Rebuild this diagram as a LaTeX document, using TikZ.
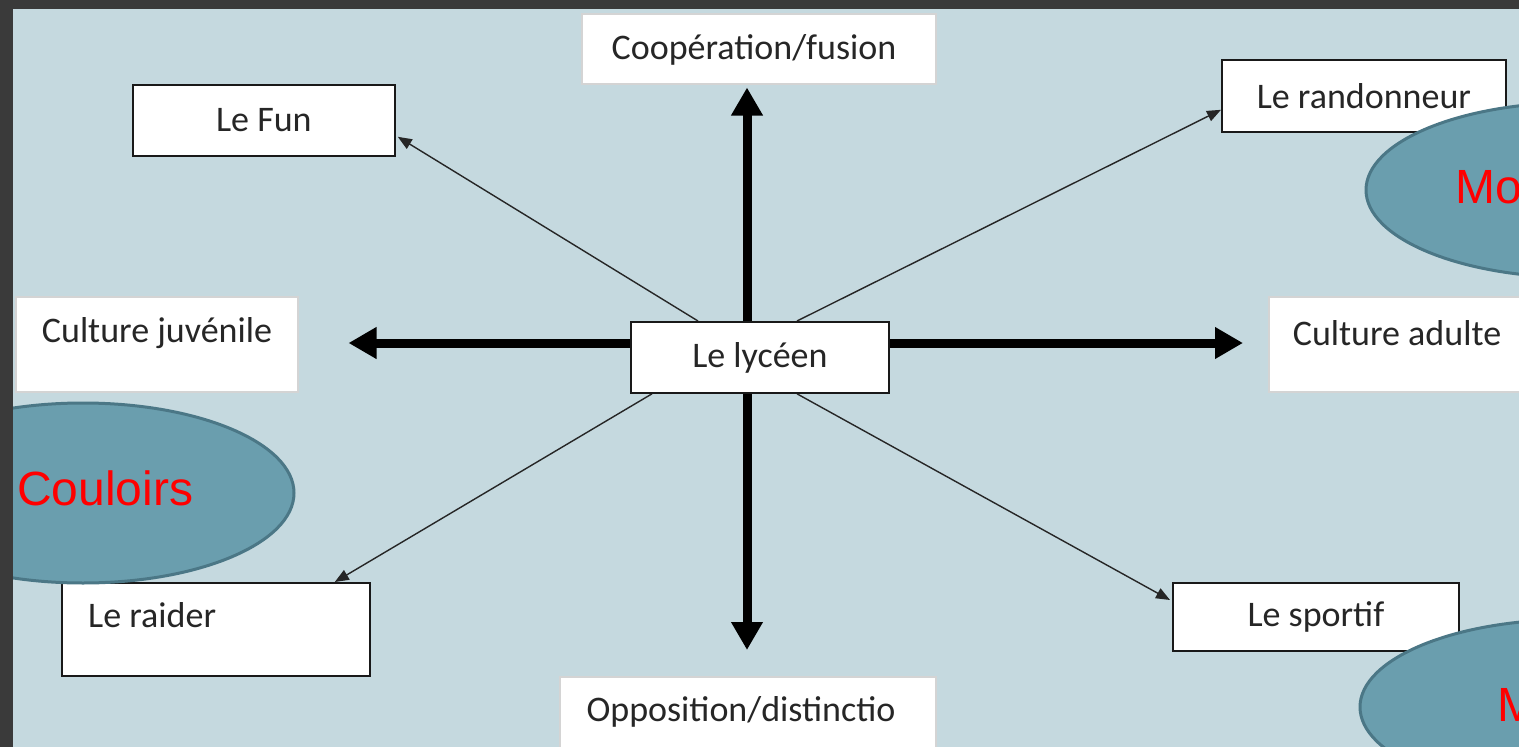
\documentclass[tikz,border=0pt]{standalone}
\usepackage{fontspec}
\setmainfont{Carlito}
\newfontfamily\arialfont{Liberation Sans}
\usetikzlibrary{arrows.meta,calc,shapes.geometric}
\definecolor{framegray}{HTML}{3A3A3A}
\definecolor{canvasbg}{HTML}{C5D9DF}
\definecolor{blobfill}{HTML}{6A9EAE}
\definecolor{blobdraw}{HTML}{4B7786}
\definecolor{softgray}{HTML}{D4D4D4}
\pgfdeclarelayer{bg}
\pgfdeclarelayer{links}
\pgfsetlayers{bg,links,main}
\begin{document}
\begin{tikzpicture}[x=1pt,y=-1pt,
  darkbox/.style={draw=black!90,line width=1.8pt,fill=white,inner sep=0pt,anchor=north west,
    font=\fontsize{36}{43}\selectfont,text=black!85},
  softbox/.style={draw=softgray,line width=1.5pt,fill=white,inner sep=0pt,anchor=north west},
  boxtext/.style={font=\fontsize{36}{43}\selectfont,text=black!85,inner sep=0pt},
  blob/.style={ellipse,fill=blobfill,draw=blobdraw,line width=3pt,inner sep=0pt},
  blobtext/.style={font=\arialfont\fontsize{48}{58}\selectfont,text=red,inner sep=0pt,anchor=base west},
  axisarrow/.style={line width=9pt,-{Triangle[length=28pt,width=30pt]}},
  spoke/.style={line width=1.4pt,black!85,-{Triangle[length=14pt,width=11pt]}}]

% frame and canvas
\begin{pgfonlayer}{bg}
  \fill[framegray] (0,0) rectangle (1519,747);
  \fill[canvasbg] (13,9) rectangle (1519,747);
\end{pgfonlayer}
\useasboundingbox (0,0) rectangle (1519,747);

\begin{scope}
  \clip (13,9) rectangle (1519,747);
  % boxes
  \node[softbox,minimum width=354,minimum height=70] (coop) at (581,13) {};
  \node[boxtext] (cooptxt) at (754,50) {Coopération/fusion};
  \node[darkbox,minimum width=262,minimum height=71] (fun) at (132,84) {Le Fun};
  \node[darkbox,minimum width=284,minimum height=72] (rand) at (1221,59) {Le randonneur};
  \node[softbox,minimum width=282,minimum height=95] (juv) at (15,296) {};
  \node[boxtext] (juvtxt) at (157,333) {Culture juvénile};
  \node[softbox,minimum width=280,minimum height=95] (adult) at (1268,296) {};
  \node[boxtext] (adulttxt) at (1397,333) {Culture adulte};
  \node[darkbox,minimum width=258,minimum height=71] (lyc) at (630,321) {Le lycéen};
  \node[darkbox,minimum width=308,minimum height=93] (raider) at (61,582) {};
  \node[boxtext,anchor=base west] (raidertxt) at (88,627) {Le raider};
  \node[darkbox,minimum width=286,minimum height=68] (sportif) at (1172,582) {Le sportif};
  \node[softbox,minimum width=376,minimum height=90] (opp) at (559,676) {};
  \node[boxtext] (opptxt) at (741,712) {Opposition/distinctio};

  % ellipses on top
  \node[blob,minimum width=422,minimum height=180] (couloirs) at (83,493) {};
  \node[blobtext] (couloirstxt) at (17,505) {Couloirs};
  \node[blob,minimum width=422,minimum height=175] (blobne) at (1577,190) {};
  \node[blobtext] (blobnetxt) at (1455,203) {Mo};
  \node[blob,minimum width=422,minimum height=175] (blobse) at (1571,707) {};
  \node[blobtext] (blobsetxt) at (1497,721) {M};
\end{scope}

% connectors behind the boxes
\begin{pgfonlayer}{links}
  \coordinate (hub) at (747,343);
  \draw[axisarrow,shorten >=3pt] (hub) -- (hub |- coop.south);
  \draw[axisarrow,shorten >=26pt] (hub) -- (hub |- opp.north);
  \draw[axisarrow,shorten >=50pt] (hub) -- (hub -| juv.east);
  \draw[axisarrow,shorten >=25pt] (hub) -- (hub -| adult.west);

  \draw[spoke] ($(lyc.north west)+(68,0)$) -- ($(fun.south east)+(2,-20)$);
  \draw[spoke] ($(lyc.north west)+(167,0)$) -- ($(rand.south west)+(0,-23)$);
  \draw[spoke] ($(lyc.south west)+(22,0)$) -- ($(raider.north east)+(-36,0)$);
  \draw[spoke] ($(lyc.south west)+(167,0)$) -- ($(sportif.north west)+(-2,18)$);
\end{pgfonlayer}
\end{tikzpicture}
\end{document}
